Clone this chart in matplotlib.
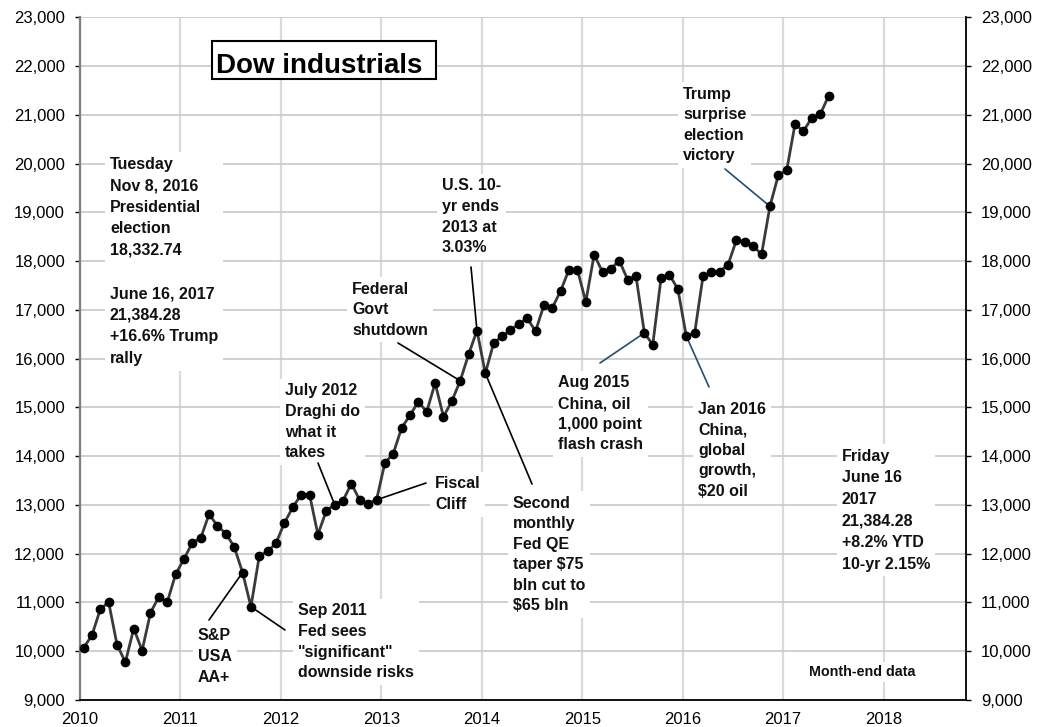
import numpy as np
import matplotlib
matplotlib.use("Agg")
import matplotlib.pyplot as plt
from matplotlib.patches import Rectangle
from matplotlib.ticker import FuncFormatter

plt.rcParams['font.family'] = ['Liberation Sans', 'DejaVu Sans']

# ---------------- data (month-end closes, Jan 2010 .. Jun 16 2017) -------------
dow_2010 = [10067, 10325, 10857, 11009, 10137, 9774, 10466, 10015, 10788, 11118, 11006, 11578]
dow_2011 = [11892, 12226, 12320, 12811, 12570, 12414, 12143, 11614, 10913, 11955, 12046, 12218]
dow_2012 = [12633, 12952, 13212, 13214, 12393, 12880, 13009, 13091, 13437, 13096, 13026, 13104]
dow_2013 = [13861, 14054, 14579, 14840, 15116, 14910, 15500, 14810, 15130, 15546, 16086, 16577]
dow_2014 = [15699, 16322, 16458, 16581, 16717, 16827, 16563, 17098, 17043, 17391, 17828, 17823]
dow_2015 = [17165, 18133, 17776, 17841, 18011, 17620, 17690, 16528, 16285, 17664, 17720, 17425]
dow_2016 = [16466, 16517, 17685, 17774, 17787, 17930, 18432, 18401, 18308, 18142, 19124, 19763]
dow_2017 = [19864, 20812, 20663, 20941, 21009, 21384]
values = np.array(dow_2010 + dow_2011 + dow_2012 + dow_2013 + dow_2014 + dow_2015 + dow_2016 + dow_2017, dtype=float)
start_year = 2010
x = start_year + (np.arange(len(values)) + 0.42) / 12.0

year_ticks = list(range(2010, 2019))
y_ticks = list(range(9000, 23001, 1000))

title = "Dow industrials"
note_left = ("Tuesday\nNov 8, 2016\nPresidential\nelection\n18,332.74\n\n"
             "June 16, 2017\n21,384.28\n+16.6% Trump\nrally")
note_friday = "Friday\nJune 16\n2017\n21,384.28\n+8.2% YTD\n10-yr 2.15%"

# (text, left px, first-line center px, index of pointed month, line end px, color)
events = [
    ("July 2012\nDraghi do\nwhat it\ntakes", 285, 390, 30, (318, 463), 'black'),
    ("S&P\nUSA\nAA+", 198, 635, 19, (209, 620), 'black'),
    ("Sep 2011\nFed sees\n\"significant\"\ndownside risks", 298, 610, 20, (285, 630), 'black'),
    ("Fiscal\nCliff", 435, 483, 35, (426, 483), 'black'),
    ("Federal\nGovt\nshutdown", 352, 288, 45, (398, 343), 'black'),
    ("U.S. 10-\nyr ends\n2013 at\n3.03%", 442, 185, 47, (471, 267), 'black'),
    ("Second\nmonthly\nFed QE\ntaper $75\nbln cut to\n$65 bln", 513, 502, 48, (532, 484), 'black'),
    ("Aug 2015\nChina, oil\n1,000 point\nflash crash", 558, 382, 67, (600, 363), '#1f4e79'),
    ("Jan 2016\nChina,\nglobal\ngrowth,\n$20 oil", 698, 408, 72, (709, 387), '#1f4e79'),
    ("Trump\nsurprise\nelection\nvictory", 683, 93, 82, (725, 169), '#1f4e79'),
]

# ---------------- figure ----------------
W, H = 1047, 727
fig = plt.figure(figsize=(W / 100, H / 100), dpi=100)
ax = fig.add_axes([80 / W, 1 - 700 / H, (966 - 80) / W, (700 - 17.3) / H])

ax.set_xlim(2010, 2018.82)
ax.set_ylim(9000, 23000)
ax.set_xticks(year_ticks)
ax.set_yticks(y_ticks)
ax.yaxis.set_major_formatter(FuncFormatter(lambda v, p: f"{int(v):,}"))

ax.grid(axis='y', color='#c8c8c8', linewidth=1.2, zorder=0)
ax.grid(axis='x', color='#dadada', linewidth=1.6, zorder=0)
ax.set_axisbelow(True)

ax.spines['top'].set_visible(False)
ax.spines['left'].set_color('#7f7f7f')
ax.spines['left'].set_linewidth(1.6)
ax.spines['bottom'].set_color('black')
ax.spines['bottom'].set_linewidth(1.3)
ax.spines['right'].set_color('black')
ax.spines['right'].set_linewidth(1.3)

ax.tick_params(axis='x', length=0, pad=8.5, labelsize=12, colors='black')
ax.tick_params(axis='y', which='both', left=True, right=True, labelleft=True, labelright=True,
               direction='out', length=3.6, width=1.0, labelsize=12, pad=7.2)
for t in ax.yaxis.get_ticklines()[0::2]:
    t.set_color('#7f7f7f')

# series
ax.plot(x, values, color='#3a3a3a', linewidth=2.0, zorder=6, clip_on=False)
ax.plot(x, values, linestyle='none', marker='o', markersize=6.0, color='black', zorder=7, clip_on=False)

def fy(ypx):
    return 1 - ypx / H

def fx(xpx):
    return xpx / W

def note(txt, xl, yc, size=11.5, ls=1.46):
    ax.text(fx(xl), fy(yc - 6.5), txt, transform=fig.transFigure, ha='left', va='top',
            fontsize=size, fontweight='bold', linespacing=ls, color='#111111',
            bbox=dict(facecolor='white', edgecolor='none', pad=3.5), zorder=4)

note(note_left, 110, 163, ls=1.55)
note(note_friday, 842, 455, ls=1.55)

for txt, xl, yc, idx, end, col in events:
    note(txt, xl, yc)
    ax.annotate('', xy=(x[idx], values[idx]), xycoords='data',
                xytext=(fx(end[0]), fy(end[1])), textcoords='figure fraction',
                arrowprops=dict(arrowstyle='-', color=col, linewidth=1.2, shrinkA=0, shrinkB=0),
                zorder=5)

ax.text(fx(809), fy(672), "Month-end data", transform=fig.transFigure, ha='left', va='center',
        fontsize=10.3, fontweight='bold', color='#111111',
        bbox=dict(facecolor='white', edgecolor='none', pad=2), zorder=4)

# title box
ax.add_patch(Rectangle((fx(211.7), fy(79.3)), fx(436) - fx(211.7), fy(40.7) - fy(79.3),
                       transform=fig.transFigure, facecolor='white', edgecolor='black',
                       linewidth=1.5, zorder=4, clip_on=False))
ax.text(fx(216), fy(72.7), title, transform=fig.transFigure, ha='left', va='baseline',
        fontsize=20, fontweight='bold', color='black', zorder=5)

fig.savefig("out.png", dpi=100)
